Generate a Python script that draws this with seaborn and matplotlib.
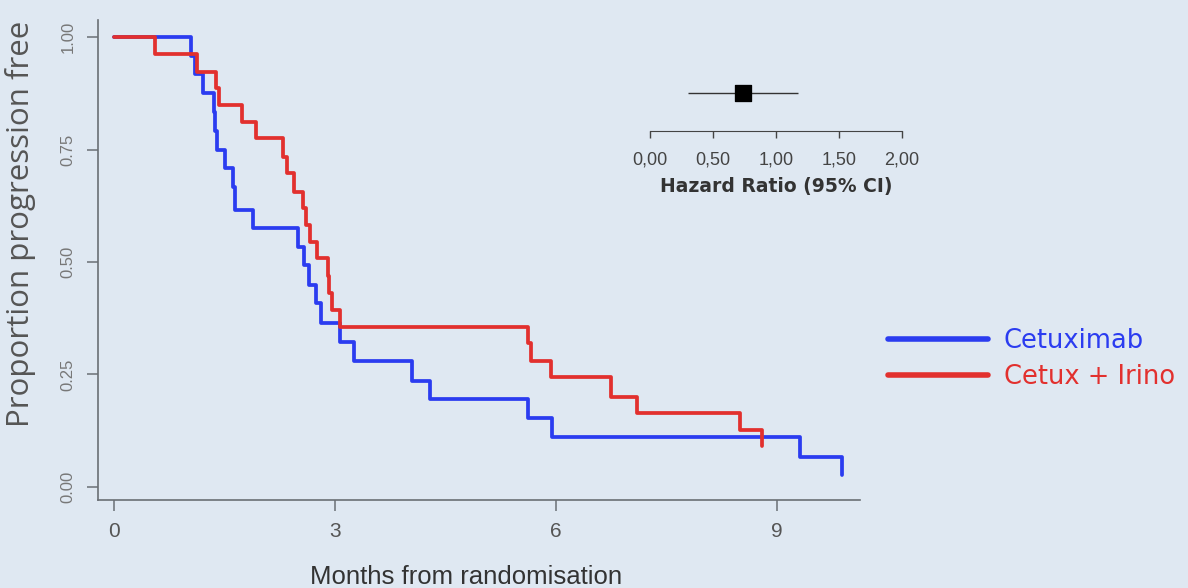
import pandas as pd
import seaborn as sns
import matplotlib.pyplot as plt

# Kaplan-Meier steps (months, proportion free)
cetux_t = [0, 1.04, 1.10, 1.20, 1.35, 1.37, 1.40, 1.51, 1.62, 1.64, 1.88, 2.49, 2.58,
           2.65, 2.74, 2.81, 3.06, 3.26, 4.04, 4.29, 5.62, 5.95, 9.31, 9.88, 9.88]
cetux_s = [1.0, 0.958, 0.917, 0.875, 0.833, 0.792, 0.75, 0.708, 0.667, 0.616, 0.575, 0.534, 0.493,
           0.449, 0.409, 0.364, 0.323, 0.279, 0.236, 0.195, 0.153, 0.110, 0.067, 0.067, 0.027]

irino_t = [0, 0.56, 1.13, 1.38, 1.42, 1.74, 1.92, 2.29, 2.35, 2.44, 2.56, 2.60, 2.66,
           2.76, 2.90, 2.92, 2.96, 3.06, 5.62, 5.66, 5.93, 6.75, 7.10, 8.50, 8.80, 8.80]
irino_s = [1.0, 0.963, 0.923, 0.887, 0.849, 0.812, 0.775, 0.734, 0.697, 0.656, 0.62, 0.582, 0.545,
           0.508, 0.47, 0.43, 0.393, 0.356, 0.32, 0.279, 0.245, 0.20, 0.164, 0.127, 0.127, 0.09]

groups = ["Cetuximab", "Cetux + Irino"]
colors = ["#2b3cf0", "#e2302e"]

# hazard ratio inset
hr = [0.74]
hr_low = [0.30]
hr_high = [1.18]
hr_ticks = [0.0, 0.5, 1.0, 1.5, 2.0]
hr_labels = ["0,00", "0,50", "1,00", "1,50", "2,00"]

df = pd.concat([
    pd.DataFrame({"months": cetux_t, "prop": cetux_s, "arm": groups[0]}),
    pd.DataFrame({"months": irino_t, "prop": irino_s, "arm": groups[1]}),
])

bg = "#dfe8f2"
sns.set_style("ticks")
plt.rcParams["font.family"] = ["Liberation Sans", "DejaVu Sans"]

fig = plt.figure(figsize=(11.88, 5.88), dpi=100, facecolor=bg)
ax = fig.add_axes([0.0825, 0.1497, 0.6415, 0.8163], facecolor=bg)

sns.lineplot(data=df, x="months", y="prop", hue="arm", palette=colors, sort=False,
             estimator=None, drawstyle="steps-post", linewidth=2.7, ax=ax)

ax.set_xlim(-0.22, 10.13)
ax.set_ylim(-0.029, 1.038)
ax.set_xticks([0, 3, 6, 9])
ax.set_yticks([0, 0.25, 0.5, 0.75, 1.0])
ax.set_yticklabels(["0.00", "0.25", "0.50", "0.75", "1.00"], rotation=90, va="center")
ax.tick_params(axis="y", length=8, width=1.1, colors="#6a6f75", labelsize=12, pad=8)
ax.tick_params(axis="x", length=8, width=1.1, colors="#6a6f75", labelsize=15, pad=8)
for lab in ax.get_xticklabels():
    lab.set_color("#555")
for lab in ax.get_yticklabels():
    lab.set_color("#777")
for s in ["top", "right"]:
    ax.spines[s].set_visible(False)
for s in ["left", "bottom"]:
    ax.spines[s].set_color("#6a6f75")
    ax.spines[s].set_linewidth(1.2)

ax.set_ylabel("Proportion progression free", fontsize=22.5, color="#555",
              family=["Open Sans", "DejaVu Sans"])
ax.yaxis.set_label_coords(-0.082, 0.575)
ax.set_xlabel("Months from randomisation", fontsize=18.5, color="#333")
ax.xaxis.set_label_coords(0.483, -0.135)

# legend outside the axes
ax.get_legend().remove()
handles, labels = ax.get_legend_handles_labels()
leg = fig.legend(handles, labels, loc="center left", bbox_to_anchor=(0.7366, 0.39),
                 frameon=False, handlelength=3.9, handletextpad=0.6,
                 labelspacing=0.38, borderpad=0, prop={"family": "DejaVu Sans", "size": 18.5})
for txt, c in zip(leg.get_texts(), colors):
    txt.set_color(c)
for line in leg.get_lines():
    line.set_linewidth(4)

# hazard ratio forest inset
ins = fig.add_axes([0.547, 0.777, 0.212, 0.087], facecolor="none")
hr_df = pd.DataFrame({"hr": hr, "lo": hr_low, "hi": hr_high, "y": [0.75]})
ins.hlines(hr_df["y"], hr_df["lo"], hr_df["hi"], color="#333", linewidth=1.0)
sns.scatterplot(data=hr_df, x="hr", y="y", marker="s", s=140, color="black",
                edgecolor="black", ax=ins, zorder=3)
ins.set_xlim(0, 2)
ins.set_ylim(0, 1)
ins.set_xticks(hr_ticks)
ins.set_xticklabels(hr_labels)
ins.set_yticks([])
ins.set_ylabel("")
ins.set_xlabel("Hazard Ratio (95% CI)", fontsize=13.5, fontweight="bold", color="#333",
               family="DejaVu Sans", labelpad=6)
ins.tick_params(axis="x", length=5, width=1, colors="#444", labelsize=13, pad=10)
for lab in ins.get_xticklabels():
    lab.set_color("#444")
for s in ["top", "right", "left"]:
    ins.spines[s].set_visible(False)
ins.spines["bottom"].set_color("#444")

fig.savefig("out.png", dpi=100, facecolor=bg)
